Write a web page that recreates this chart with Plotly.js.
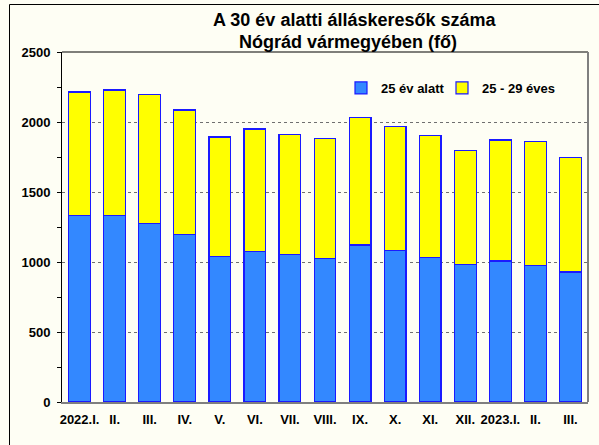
<!DOCTYPE html>
<html>
<head>
<meta charset="utf-8">
<script src="https://cdn.plot.ly/plotly-3.0.1.min.js"></script>
<style>html,body{margin:0;padding:0;background:#fefef4;}#chart{width:599px;height:445px;}</style>
</head>
<body>
<div id="chart"></div>
<script>
const months = ["2022.I.", "II.", "III.", "IV.", "V.", "VI.", "VII.", "VIII.", "IX.", "X.", "XI.", "XII.", "2023.I.", "II.", "III."];
const under25 = [1331, 1331, 1276, 1195, 1041, 1074, 1055, 1026, 1121, 1081, 1033, 981, 1007, 974, 929];
const age25to29 = [883, 898, 920, 891, 852, 876, 856, 857, 910, 888, 872, 817, 864, 888, 819];
const seriesNames = ["25 év alatt", "25 - 29 éves"];
const titleLines = ["A 30 év alatti álláskeresők száma", "Nógrád vármegyében (fő)"];

const idx = months.map((_, i) => i);
const font = "Liberation Sans, Arial, sans-serif";

const traces = [
  {type: "bar", x: idx, y: under25, name: seriesNames[0], legend: "legend",
   marker: {color: "#3388ff", line: {color: "#1a1aff", width: 1.2}}},
  {type: "bar", x: idx, y: age25to29, name: seriesNames[1], legend: "legend2",
   marker: {color: "#ffff00", line: {color: "#1a1aff", width: 1.2}}}
];

// plot area: 62..588 px horizontally, 52..402 px vertically
const px = v => (v - 62) / 526;
const py = v => (402 - v) / 350;

const legendBase = {orientation: "h", xanchor: "left", y: py(88), yanchor: "middle",
                    bgcolor: "rgba(0,0,0,0)", font: {family: font, size: 13, weight: "bold"}};

const layout = {
  width: 599, height: 445,
  margin: {l: 62, r: 11, t: 52, b: 43},
  paper_bgcolor: "#fefef4", plot_bgcolor: "#fefef4",
  barmode: "stack", bargap: 0.38,
  font: {family: font, color: "#000", size: 13, weight: "bold"},
  annotations: [
    {text: titleLines[0], xref: "paper", yref: "paper", x: px(355), y: py(20), xanchor: "center", yanchor: "middle",
     showarrow: false, font: {family: font, size: 18, weight: "bold", color: "#000"}},
    {text: titleLines[1], xref: "paper", yref: "paper", x: px(348), y: py(42), xanchor: "center", yanchor: "middle",
     showarrow: false, font: {family: font, size: 18, weight: "bold", color: "#000"}}
  ],
  showlegend: true,
  legend: Object.assign({}, legendBase, {x: px(341)}),
  legend2: Object.assign({}, legendBase, {x: px(442)}),
  xaxis: {range: [-0.5, 14.5], tickvals: idx, ticktext: months, tickangle: 0,
          showgrid: false, zeroline: false, showline: true, linecolor: "#7f7f7f", linewidth: 2,
          ticks: "", ticklabelstandoff: 4, tickfont: {family: font, size: 13, weight: "bold"}, fixedrange: true},
  yaxis: {range: [0, 2500], dtick: 500, tick0: 0, showgrid: true, gridcolor: "#6f6f6f", griddash: "dot", gridwidth: 1,
          zeroline: false, showline: true, linecolor: "#000", linewidth: 1,
          ticks: "outside", ticklen: 4, tickcolor: "#000",
          minor: {dtick: 250, ticks: "outside", ticklen: 4, tickcolor: "#000", showgrid: false},
          ticklabelstandoff: 4, tickfont: {family: font, size: 13, weight: "bold"}},
  shapes: [
    {type: "line", xref: "paper", yref: "paper", x0: 0, x1: 1, y0: 1, y1: 1, line: {color: "#000", width: 1}},
    {type: "line", xref: "paper", yref: "paper", x0: 1, x1: 1, y0: 0, y1: 1, line: {color: "#7f7f7f", width: 2}},
    {type: "line", xref: "paper", yref: "paper", x0: px(9.5), x1: px(9.5), y0: py(4.5), y1: py(445), line: {color: "#000", width: 1}},
    {type: "line", xref: "paper", yref: "paper", x0: px(9.5), x1: px(599), y0: py(4.5), y1: py(4.5), line: {color: "#000", width: 1}}
  ]
};

Plotly.newPlot("chart", traces, layout, {displayModeBar: false, staticPlot: true});
</script>
</body>
</html>
